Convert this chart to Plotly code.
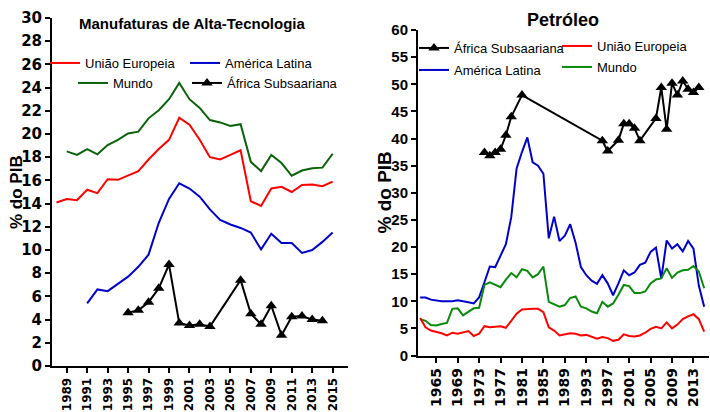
import plotly.graph_objects as go

# ---------------- Left panel: Manufaturas de Alta-Tecnologia ----------------
anos_ue_l = list(range(1988, 2016))
ue_l = [14.1, 14.4, 14.3, 15.2, 14.9, 16.1, 16.05, 16.4, 16.8, 17.8, 18.7, 19.5, 21.4, 20.8,
        19.5, 18.0, 17.8, 18.2, 18.6, 14.2, 13.8, 15.3, 15.45, 15.0, 15.6, 15.65, 15.5, 15.9]
anos_mundo_l = list(range(1989, 2016))
mundo_l = [18.5, 18.2, 18.7, 18.25, 19.05, 19.5, 20.05, 20.2, 21.35, 22.05, 23.0, 24.4, 23.0,
           22.25, 21.2, 21.0, 20.7, 20.85, 17.6, 16.8, 18.2, 17.5, 16.4, 16.85, 17.05, 17.1, 18.3]
anos_al_l = list(range(1991, 2016))
al_l = [5.4, 6.6, 6.45, 7.05, 7.7, 8.55, 9.6, 12.35, 14.4, 15.75, 15.3, 14.6, 13.5, 12.6, 12.2,
        11.9, 11.5, 10.05, 11.4, 10.6, 10.6, 9.75, 10.0, 10.7, 11.5]
anos_af_l = [1995, 1996, 1997, 1998, 1999, 2000, 2001, 2002, 2003, 2006, 2007, 2008, 2009, 2010,
             2011, 2012, 2013, 2014]
af_l = [4.6, 4.8, 5.5, 6.7, 8.75, 3.7, 3.5, 3.6, 3.4, 7.4, 4.5, 3.6, 5.2, 2.65, 4.25, 4.3, 4.0, 3.9]
ticks_x_l = list(range(1989, 2016, 2))

# ---------------- Right panel: Petróleo ----------------
anos_r = list(range(1962, 2016))
al_r = [10.7, 10.7, 10.3, 10.1, 10.0, 10.0, 10.0, 10.2, 9.95, 9.8, 9.6,
        10.7, 13.5, 16.4, 16.3, 18.5, 20.5, 25.5, 34.5, 37.5, 40.2,
        35.6, 35.0, 33.5, 21.6, 25.6, 21.1, 22.1, 24.2, 20.8, 16.3,
        14.8, 13.8, 13.2, 14.8, 13.3, 11.1, 13.3, 15.7, 14.8, 15.3,
        16.7, 17.1, 19.1, 19.9, 14.2, 21.2, 19.7, 20.5, 19.2, 21.1,
        19.7, 12.9, 9.0]
mundo_r = [6.7, 6.4, 5.6, 5.55, 5.8, 6.0, 8.6, 8.7, 7.4, 8.1, 8.7,
           8.8, 13.0, 13.5, 13.1, 12.6, 14.0, 15.2, 14.4, 15.9, 15.6,
           14.4, 15.0, 16.4, 9.9, 9.4, 9.0, 9.3, 10.6, 10.9, 9.0,
           8.7, 8.1, 7.8, 9.9, 9.0, 9.6, 11.2, 13.0, 12.8, 11.5,
           11.5, 11.8, 13.3, 14.0, 14.2, 16.1, 14.3, 15.3, 15.7, 15.8,
           16.5, 15.5, 12.4]
ue_r = [6.9, 5.2, 4.6, 4.35, 4.1, 3.7, 4.2, 4.0, 4.2, 4.5, 3.6,
        4.0, 5.4, 5.2, 5.3, 5.4, 5.1, 6.5, 7.7, 8.5, 8.6,
        8.6, 8.6, 8.0, 5.2, 4.6, 3.7, 3.9, 4.1, 4.0, 3.7,
        3.8, 3.4, 3.1, 3.4, 3.2, 2.7, 2.9, 3.9, 3.6, 3.5,
        3.7, 4.2, 4.9, 5.3, 5.0, 6.1, 5.0, 5.7, 6.7, 7.2,
        7.6, 6.7, 4.4]
anos_af_r = [1974, 1975, 1976, 1977, 1978, 1979, 1981, 1996, 1997, 1999, 2000, 2001, 2002, 2003,
             2006, 2007, 2008, 2009, 2010, 2011, 2012, 2013, 2014]
af_r = [37.4, 36.8, 37.4, 38.0, 40.6, 44.0, 48.0, 39.6, 37.7, 39.7, 42.7, 42.7, 41.9, 39.6,
        43.7, 49.4, 41.7, 50.2, 48.0, 50.6, 49.1, 48.5, 49.4]
ticks_x_r = list(range(1965, 2014, 4))

W, H = 710, 412
RED = "#ff0000"
BLUE = "#0000cc"
GREEN_L = "#0a620a"
GREEN_R = "#0a8a0a"
LEG_FONT = dict(family="Liberation Sans, Arial", size=13, color="black")

fig = go.Figure()

def line(x, y, name, color, xa, ya, legend, markers=False):
    fig.add_trace(go.Scatter(
        x=x, y=y, name=name, mode="lines+markers" if markers else "lines",
        line=dict(color=color, width=2),
        marker=dict(symbol="triangle-up", size=10, color=color) if markers else None,
        xaxis=xa, yaxis=ya, legend=legend))

line(anos_ue_l, ue_l, "União Europeia", RED, "x", "y", "legend")
line(anos_al_l, al_l, "América Latina", BLUE, "x", "y", "legend2")
line(anos_mundo_l, mundo_l, "Mundo", GREEN_L, "x", "y", "legend3")
line(anos_af_l, af_l, "África Subsaariana", "black", "x", "y", "legend4", markers=True)

line(anos_r, al_r, "América Latina", BLUE, "x2", "y2", "legend6")
line(anos_r, mundo_r, "Mundo", GREEN_R, "x2", "y2", "legend8")
line(anos_r, ue_r, "União Europeia", RED, "x2", "y2", "legend7")
line(anos_af_r, af_r, "África Subsaariana", "black", "x2", "y2", "legend5", markers=True)

def leg(px, py):
    return dict(x=px / W, y=1 - py / H, xanchor="left", yanchor="middle",
                bgcolor="rgba(0,0,0,0)", borderwidth=0, font=LEG_FONT)

axis_common = dict(showgrid=False, zeroline=False, showline=True, linecolor="black", linewidth=2,
                   ticks="outside", ticklen=5, tickwidth=2, tickcolor="black", automargin=False)

fig.update_layout(
    width=W, height=H, margin=dict(l=0, r=0, t=0, b=0, autoexpand=False),
    paper_bgcolor="white", plot_bgcolor="white", showlegend=True,
    xaxis=dict(domain=[52 / W, 348 / W], range=[1987.56, 2016.5], tickmode="array",
               tickvals=ticks_x_l, ticktext=[str(t) for t in ticks_x_l], tickangle=-90,
               tickfont=dict(family="DejaVu Sans", size=12, weight="bold", color="black"),
               anchor="y", **axis_common),
    yaxis=dict(domain=[1 - 366 / H, 1 - 18 / H], range=[0, 30], dtick=2, tick0=0,
               tickfont=dict(family="DejaVu Sans", size=15, weight="bold", color="black"),
               anchor="x", **axis_common),
    xaxis2=dict(domain=[418 / W, 709 / W], range=[1961.6, 2015.9], tickmode="array",
                tickvals=ticks_x_r, ticktext=[str(t) for t in ticks_x_r], tickangle=-90,
                tickfont=dict(family="DejaVu Sans", size=14, weight="bold", color="black"),
                anchor="y2", **axis_common),
    yaxis2=dict(domain=[1 - 355.5 / H, 1 - 30 / H], range=[0, 60], dtick=5, tick0=0,
                tickfont=dict(family="Liberation Sans", size=15, weight="bold", color="black"),
                anchor="x2", **axis_common),
    legend=leg(45, 63), legend2=leg(185, 63), legend3=leg(73, 83), legend4=leg(187, 83),
    legend5=leg(414, 48), legend6=leg(414, 70), legend7=leg(557, 46), legend8=leg(557, 67),
    annotations=[
        dict(text="<b>Manufaturas de Alta-Tecnologia</b>", x=192.5 / W, y=1 - 24 / H,
             xref="paper", yref="paper", showarrow=False, xanchor="center", yanchor="middle",
             font=dict(family="Liberation Sans", size=15, color="black")),
        dict(text="<b>Petróleo</b>", x=563 / W, y=1 - 20 / H,
             xref="paper", yref="paper", showarrow=False, xanchor="center", yanchor="middle",
             font=dict(family="Liberation Sans", size=18, color="black")),
        dict(text="<b>% do PIB</b>", x=16 / W, y=1 - 192 / H, textangle=-90,
             xref="paper", yref="paper", showarrow=False, xanchor="center", yanchor="middle",
             font=dict(family="Liberation Sans", size=17, color="black")),
        dict(text="<b>% do PIB</b>", x=384 / W, y=1 - 192.5 / H, textangle=-90,
             xref="paper", yref="paper", showarrow=False, xanchor="center", yanchor="middle",
             font=dict(family="Liberation Sans", size=19, color="black")),
    ],
)

fig.write_html("out.html", config={"displayModeBar": False},
               post_script="document.body.style.margin='0';document.body.style.overflow='hidden';"
                           "document.documentElement.style.overflow='hidden';")
